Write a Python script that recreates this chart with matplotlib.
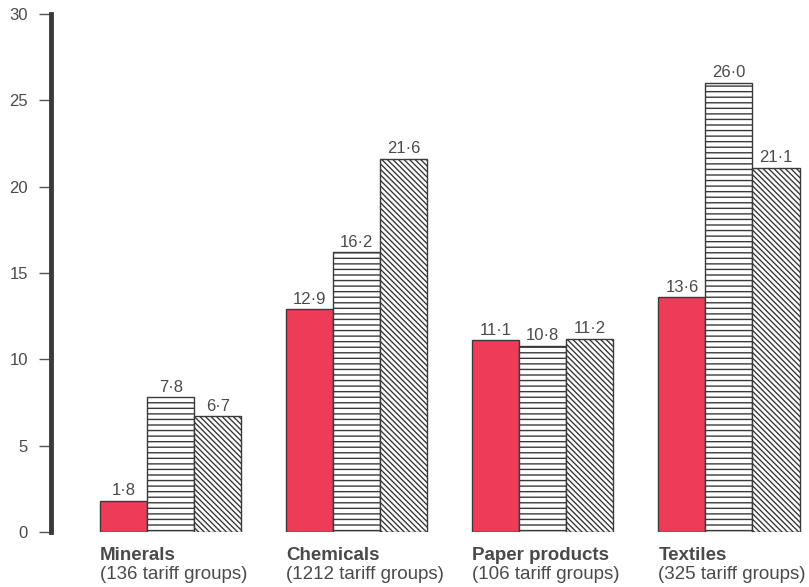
import numpy as np
import matplotlib
matplotlib.use('Agg')
import matplotlib.pyplot as plt

plt.rcParams['font.family'] = ['Liberation Sans', 'DejaVu Sans']
plt.rcParams['hatch.linewidth'] = 1.0

Cats = ['Minerals', 'Chemicals', 'Paper products', 'Textiles']
Groups = ['(136 tariff groups)', '(1212 tariff groups)', '(106 tariff groups)', '(325 tariff groups)']
Red = [1.8, 12.9, 11.1, 13.6]
Horiz = [7.8, 16.2, 10.8, 26.0]
Diag = [6.7, 21.6, 11.2, 21.1]

TXT = '#4a4a4a'
W = 47/186
X = np.arange(len(Cats))

fig = plt.figure(figsize=(8.09, 5.87), dpi=100)
fig.patch.set_facecolor('white')
ax = fig.add_axes([51/809, 55/587, 1-51/809, (532-14)/587])

def lab(v):
    return ('%.1f' % v).replace('.', '\u00b7')

series = [(Red, -W, '#ee3c58', ''), (Horiz, 0, 'white', '---'), (Diag, W, 'white', '\\\\\\\\\\\\')]
for vals, off, col, h in series:
    bars = ax.bar(X+off, vals, W, color=col, edgecolor='#3a3a3a', linewidth=1.0, hatch=h)
    for b, v in zip(bars, vals):
        ax.text(b.get_x()+b.get_width()/2, v+0.15, lab(v), ha='center', va='bottom',
                fontsize=12, color=TXT)

for i in range(len(Cats)):
    x0 = X[i]-1.5*W
    ax.text(x0, -0.85, Cats[i], ha='left', va='top', fontsize=13.5, fontweight='bold',
            color=TXT)
    ax.text(x0, -1.95, Groups[i], ha='left', va='top', fontsize=13.5, color=TXT)

ax.set_xlim(-0.643, 3.43)
ax.set_ylim(0, 30)
ax.set_yticks(range(0, 31, 5))
ax.set_xticks([])
for s in ['top', 'right', 'bottom']:
    ax.spines[s].set_visible(False)
ax.spines['left'].set_linewidth(3.5)
ax.spines['left'].set_color('#3a3a3a')
ax.tick_params(axis='y', direction='out', length=8.6, width=1, color='#555555',
               labelsize=12, labelcolor=TXT, pad=8)

fig.savefig('out.png', dpi=100)
